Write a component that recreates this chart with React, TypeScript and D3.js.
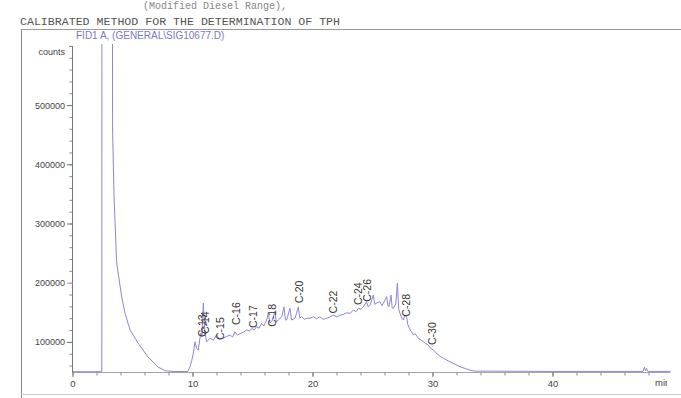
import React from "react";
import * as d3 from "d3";

const width = 681;
const height = 398;

// retention time (min) and detector response (counts)
const times = [
  0, 2.4, 2.44, 3.18, 3.3, 3.42, 3.64, 4.06, 4.33, 4.75, 5.42, 6.25, 7.08, 7.7, 8.5,
  9.56, 9.75, 9.9, 10.03, 10.17, 10.3, 10.44, 10.64, 10.75, 10.86, 11.0, 11.14, 11.42,
  11.69, 11.97, 12.2, 12.5, 12.8, 13.08, 13.3, 13.5, 13.7, 13.92, 14.2, 14.47, 14.7,
  14.9, 15.1, 15.3, 15.5, 15.72, 15.9, 16.14, 16.28, 16.4, 16.56, 16.83, 16.95, 17.11,
  17.4, 17.58, 17.7, 17.8, 18.08, 18.22, 18.5, 18.78, 18.9, 19.06, 19.3, 19.47, 19.75,
  20.03, 20.3, 20.58, 20.85, 21.14, 21.4, 21.7, 22.0, 22.25, 22.5, 22.8, 23.1, 23.36,
  23.6, 23.78, 24.0, 24.2, 24.47, 24.6, 24.75, 25.03, 25.15, 25.25, 25.58, 25.75, 25.86,
  26.14, 26.25, 26.33, 26.5, 26.6, 26.7, 26.9, 27.03, 27.15, 27.25, 27.4, 27.53, 27.65,
  27.8, 27.9, 28.03, 28.36, 28.5, 28.78, 29.0, 29.2, 29.6, 29.8, 30.03, 30.44, 30.86,
  31.4, 32.25, 32.8, 33.4, 40, 47.5, 47.62, 47.7, 47.8, 47.9, 49.8
];
const counts = [
  50500, 50500, 2500000, 2500000, 458800, 345600, 234000, 176700, 149700, 121000, 99000,
  75300, 58400, 52000, 50800,
  50800, 59000, 70000, 82000, 101000, 90000, 87000, 116000, 110000, 166500, 115000, 101000,
  107000, 104000, 112500, 106000, 107000, 110000, 112500, 109000, 118000, 112000, 115000,
  117000, 121000, 119000, 123800, 121000, 126500, 124000, 132000, 128000, 137800, 149000,
  133000, 135000, 152000, 134000, 137800, 143400, 160000, 138000, 137800, 157600, 137800,
  140700, 160000, 141000, 143400, 139000, 140700, 140700, 143400, 140000, 143400, 139000,
  140700, 143000, 146000, 143000, 146000, 147000, 150000, 149000, 154700, 152000, 157600,
  156000, 160300, 168700, 160000, 163000, 180000, 164000, 166000, 168700, 162000, 166000,
  177200, 162000, 160300, 180000, 158000, 157600, 165000, 199800, 155000, 149000, 141000,
  137800, 146000, 143400, 130000, 123800, 112500, 115000, 107000, 104000, 101000, 95600,
  90000, 87200, 78700, 73100, 67400, 59000, 55000, 51500, 51000, 51000, 58000, 52000,
  56000, 51000, 51000
];

// peak annotations: name, retention time, count where the label starts
const peakNames = ["C-13", "C-14", "C-15", "C-16", "C-17", "C-18", "C-20", "C-22", "C-24", "C-26", "C-28", "C-30"];
const peakTimes = [10.8, 11.05, 12.25, 13.64, 15.0, 16.63, 18.83, 21.67, 23.75, 24.54, 27.75, 29.92];
const peakLabelAt = [109000, 114000, 104000, 129400, 124300, 126500, 166000, 149000, 163000, 168700, 143400, 95600];

const yLabels = [100000, 200000, 300000, 400000, 500000];
const xLabels = [0, 10, 20, 30, 40];

const x = d3.scaleLinear().domain([0, 49.75]).range([73, 670]);
const y = d3.scaleLinear().domain([50000, 600000]).range([372, 46.4]);

const mono = "'Liberation Mono', 'DejaVu Sans Mono', monospace";
const sans = "'Liberation Sans', Arial, sans-serif";

export default function App() {
  const points: [number, number][] = times.map((t, i) => [t, counts[i]]);
  const line = d3
    .line<[number, number]>()
    .x((d) => x(d[0]))
    .y((d) => y(d[1]));

  const yMinor = d3.range(60000, 600001, 20000);
  const xMinor = d3.range(0, 49, 2);

  return (
    <svg
      width={width}
      height={height}
      style={{ position: "absolute", left: 0, top: 0, background: "#fff" }}
    >
      <defs>
        <clipPath id="plot">
          <rect x={73} y={44} width={600} height={330} />
        </clipPath>
        <clipPath id="edge">
          <rect x={0} y={0} width={667} height={398} />
        </clipPath>
      </defs>

      {/* header */}
      <text x={143} y={9} fontFamily={mono} fontSize={10} fill="#888">
        (Modified Diesel Range),
      </text>
      <text x={20} y={25} fontFamily={mono} fontSize={11.6} fill="#555">
        CALIBRATED METHOD FOR THE DETERMINATION OF TPH
      </text>

      {/* frame */}
      <line x1={21.5} x2={21.5} y1={29} y2={398} stroke="#888" />
      <line x1={21} x2={681} y1={29.5} y2={29.5} stroke="#999" />
      <line x1={21} x2={681} y1={394.5} y2={394.5} stroke="#ccc" />

      <text x={76} y={39} fontFamily={sans} fontSize={10} fill="#7c78c4">
        FID1 A, (GENERAL\SIG10677.D)
      </text>

      {/* y axis */}
      <line x1={72.5} x2={72.5} y1={46} y2={372} stroke="#777" />
      <line x1={69} x2={72.5} y1={46.5} y2={46.5} stroke="#777" />
      <text x={65} y={55} textAnchor="end" fontFamily={sans} fontSize={9} fill="#444">
        counts
      </text>
      {yMinor.map((v) => (
        <line key={v} x1={69.5} x2={72.5} y1={y(v)} y2={y(v)} stroke="#888" />
      ))}
      {yLabels.map((v) => (
        <g key={v}>
          <line x1={67} x2={72.5} y1={y(v)} y2={y(v)} stroke={v === 200000 ? "#c890c0" : "#777"} />
          <text x={65} y={y(v) + 3} textAnchor="end" fontFamily={sans} fontSize={9} fill="#444">
            {v}
          </text>
        </g>
      ))}

      {/* x axis */}
      <line x1={72} x2={670} y1={372.5} y2={372.5} stroke="#a9a0b0" />
      {xMinor.map((v) => (
        <line key={v} x1={x(v)} x2={x(v)} y1={372.5} y2={375.5} stroke="#888" />
      ))}
      {xLabels.map((v) => (
        <g key={v}>
          <line x1={x(v)} x2={x(v)} y1={372.5} y2={377} stroke="#777" />
          <text x={x(v)} y={387} textAnchor="middle" fontFamily={sans} fontSize={9.5} fill="#444">
            {v}
          </text>
        </g>
      ))}
      <g clipPath="url(#edge)">
        <text x={655} y={386} fontFamily={sans} fontSize={9.5} fill="#444">
          min
        </text>
      </g>

      {/* trace */}
      <g clipPath="url(#plot)">
        <path d={line(points) ?? ""} fill="none" stroke="#8e86d6" strokeWidth={1} />
      </g>

      {/* peak labels */}
      {peakNames.map((name, i) => (
        <text
          key={name}
          transform={`translate(${x(peakTimes[i])},${y(peakLabelAt[i])}) rotate(-90)`}
          dy="0.35em"
          fontFamily={sans}
          fontSize={10.5}
          fill="#333"
        >
          {name}
        </text>
      ))}
    </svg>
  );
}
